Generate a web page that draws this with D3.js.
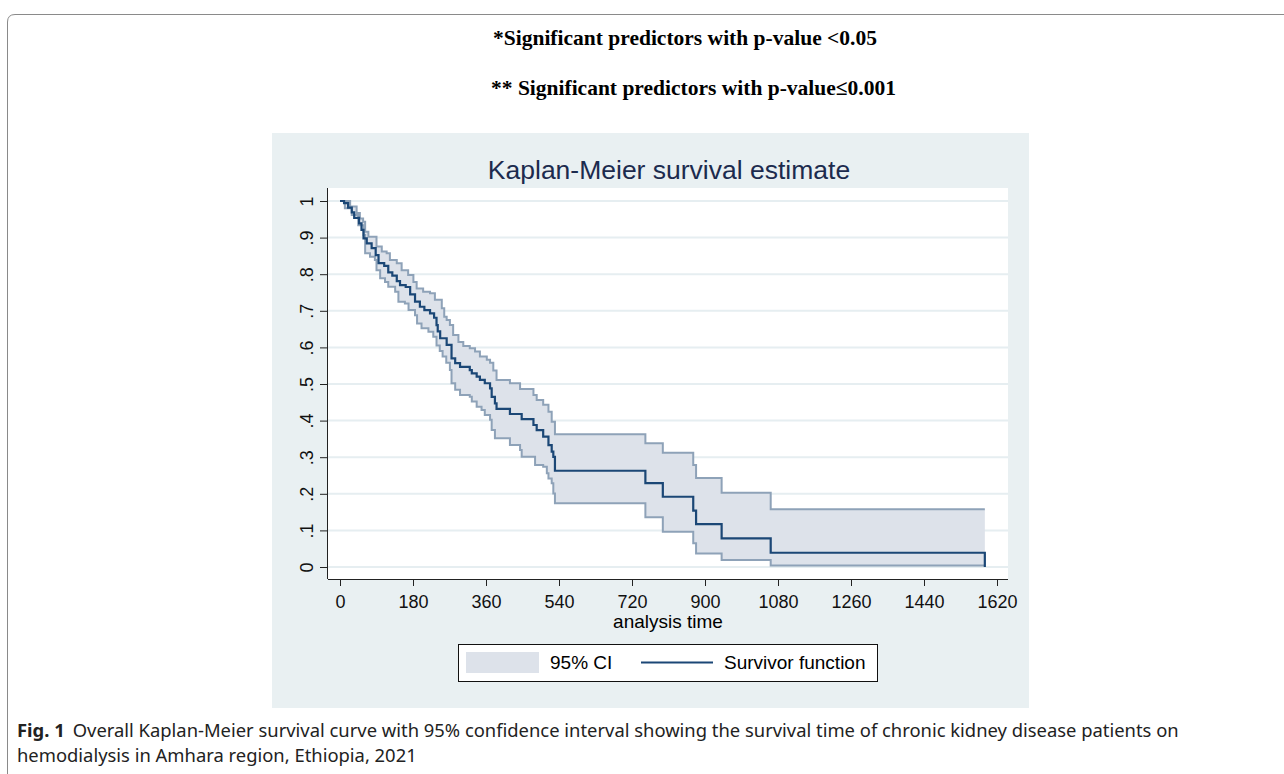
<!DOCTYPE html>
<head>
   <meta charset="utf-8">
   <script src="https://d3js.org/d3.v7.min.js"></script>
   <style>
   body{ margin:0; background:#fff; }
   text{
      font-family: "Liberation Sans", Arial, sans-serif;
   }
   text.note{
      font-family: "Liberation Serif", "Times New Roman", serif;
      font-weight: 700;
      font-size: 21.5px;
   }
   text.title{
      font-size: 26.5px;
      fill: #1c2b4e;
   }
   .tick text{
      font-size: 18px;
      fill: #111;
   }
   .tick line{
      stroke: #222;
   }
   path.domain{
      stroke: #222;
   }
   text.legend{
      font-size: 19px;
   }
   text.caption{
      font-family: "Noto Sans", sans-serif;
      font-size: 18.4px;
      fill: #222;
   }
   </style>
   <title>Kaplan-Meier survival estimate</title>
</head>

<body>
<script>
const width = 1284;
const height = 774;

// step points: [analysis time, survival]
const survival = [
   [0,1],[10,0.994],[20,0.982],[29,0.969],[35,0.954],[47,0.939],[53,0.921],[58,0.898],
   [66,0.884],[78,0.871],[88,0.852],[95,0.830],[109,0.823],[119,0.805],[129,0.796],
   [140,0.781],[148,0.770],[162,0.765],[173,0.745],[185,0.725],[197,0.711],[208,0.702],
   [222,0.693],[232,0.681],[238,0.661],[241,0.644],[247,0.625],[263,0.607],[275,0.570],
   [284,0.557],[296,0.547],[320,0.538],[325,0.529],[337,0.520],[345,0.511],[357,0.502],
   [370,0.488],[374,0.465],[382,0.447],[386,0.432],[419,0.418],[448,0.404],[477,0.388],
   [485,0.374],[501,0.356],[514,0.333],[522,0.315],[526,0.301],[530,0.263],[753,0.229],
   [796,0.192],[871,0.154],[878,0.117],[941,0.078],[1062,0.039],[1590,0]
];
const upperCI = [
   [0,1],[25,0.985],[41,0.967],[49,0.952],[57,0.943],[62,0.916],[70,0.902],[90,0.876],
   [103,0.862],[115,0.857],[123,0.839],[140,0.830],[152,0.811],[168,0.798],[181,0.779],
   [189,0.761],[205,0.752],[222,0.748],[234,0.730],[251,0.707],[257,0.684],[263,0.675],
   [271,0.661],[279,0.634],[292,0.615],[304,0.604],[320,0.598],[333,0.589],[345,0.575],
   [362,0.566],[370,0.558],[378,0.537],[386,0.511],[419,0.502],[444,0.486],[477,0.470],
   [485,0.456],[501,0.443],[514,0.424],[522,0.397],[530,0.363],[753,0.338],[796,0.312],
   [871,0.279],[878,0.243],[941,0.203],[1062,0.158],[1590,0.158]
];
const lowerCI = [
   [0,1],[12,0.980],[29,0.962],[45,0.934],[58,0.907],[62,0.857],[74,0.848],[86,0.839],
   [90,0.811],[99,0.789],[111,0.779],[119,0.766],[136,0.752],[144,0.725],[160,0.720],
   [169,0.702],[185,0.688],[190,0.665],[201,0.652],[218,0.643],[230,0.629],[238,0.605],
   [246,0.590],[253,0.575],[262,0.558],[271,0.538],[275,0.502],[284,0.484],[296,0.470],
   [320,0.465],[325,0.452],[337,0.438],[349,0.429],[357,0.415],[370,0.402],[374,0.374],
   [382,0.352],[419,0.333],[444,0.320],[448,0.301],[481,0.279],[501,0.274],[510,0.256],
   [514,0.242],[522,0.229],[526,0.201],[530,0.174],[753,0.136],[796,0.096],[871,0.065],
   [878,0.037],[941,0.019],[1062,0.004],[1590,0.004]
];

const xTicks = [0,180,360,540,720,900,1080,1260,1440,1620];
const yTicks = [0,0.1,0.2,0.3,0.4,0.5,0.6,0.7,0.8,0.9,1];

const notes = ['*Significant predictors with p-value <0.05', '** Significant predictors with p-value\u22640.001'];

const colCI     = '#dde2ea';
const colCIline = '#8ea2b8';
const colSurv   = '#1b4776';
const colPanel  = '#e9f0f2';

const svg = d3.select('body').append('svg')
   .attr('width', width)
   .attr('height', height);

// outer frame of the page (only top + left corner visible)
svg.append('path')
   .attr('d', 'M7.5,780 L7.5,22 Q7.5,14.5 15,14.5 L1290,14.5')
   .attr('fill', 'none')
   .attr('stroke', '#8a8a8a')
   .attr('stroke-width', 1);

svg.selectAll('text.note')
   .data(notes)
   .enter()
   .append('text')
   .attr('class', 'note')
   .attr('x', (d,i) => i == 0 ? 493 : 491)
   .attr('y', (d,i) => 45 + i*50)
   .text(d => d);

// stata graph region
const panel = {x: 272, y: 133, w: 757, h: 575};
svg.append('rect')
   .attr('x', panel.x).attr('y', panel.y)
   .attr('width', panel.w).attr('height', panel.h)
   .attr('fill', colPanel);

const plot = {left: 328, right: 1008, top: 188, bottom: 579};
svg.append('rect')
   .attr('x', plot.left).attr('y', plot.top)
   .attr('width', plot.right-plot.left).attr('height', plot.bottom-plot.top)
   .attr('fill', '#fff');

const x = d3.scaleLinear()
   .domain([0, 1620])
   .range([340, 997]);

const y = d3.scaleLinear()
   .domain([0, 1])
   .range([567, 201]);

// gridlines
svg.append('g')
   .selectAll('line')
   .data(yTicks)
   .enter()
   .append('line')
   .attr('x1', plot.left).attr('x2', plot.right)
   .attr('y1', d => y(d)).attr('y2', d => y(d))
   .attr('stroke', '#e6eef1')
   .attr('stroke-width', 2);

svg.append('text')
   .attr('class', 'title')
   .attr('x', 669)
   .attr('y', 179)
   .style('text-anchor', 'middle')
   .text('Kaplan-Meier survival estimate');

// CI band over a common time grid
function stepVal(arr, t){
   let v = arr[0][1];
   arr.forEach(p => { if(p[0] <= t) v = p[1]; });
   return v;
}
const grid = Array.from(new Set(upperCI.map(d => d[0]).concat(lowerCI.map(d => d[0])))).sort((a,b) => a-b);
const band = grid.map(t => ({t: t, lo: stepVal(lowerCI, t), hi: stepVal(upperCI, t)}));

svg.append('path')
   .datum(band)
   .attr('fill', colCI)
   .attr('d', d3.area()
      .curve(d3.curveStepAfter)
      .x(d => x(d.t))
      .y0(d => y(d.lo))
      .y1(d => y(d.hi)));

const line = d3.line()
   .curve(d3.curveStepAfter)
   .x(d => x(d[0]))
   .y(d => y(d[1]));

[upperCI, lowerCI].forEach(ci => {
   svg.append('path')
      .datum(ci)
      .attr('fill', 'none')
      .attr('stroke', colCIline)
      .attr('stroke-width', 2)
      .attr('d', line);
});

svg.append('path')
   .datum(survival)
   .attr('fill', 'none')
   .attr('stroke', colSurv)
   .attr('stroke-width', 2.2)
   .attr('d', line);

// axes
const xAxis = d3.axisBottom(x)
   .tickValues(xTicks)
   .tickSize(7)
   .tickPadding(9)
   .tickSizeOuter(0)
   .tickFormat(d3.format('d'));

const gx = svg.append('g')
   .attr('class', 'axis xAxis')
   .attr('transform', `translate(0, ${plot.bottom})`)
   .call(xAxis);
gx.select('.domain').attr('d', `M${plot.left},0.5H${plot.right}`);

const yAxis = d3.axisLeft(y)
   .tickValues(yTicks)
   .tickSize(8)
   .tickSizeOuter(0)
   .tickFormat(d => d == 0 ? '0' : d == 1 ? '1' : d3.format('.1f')(d).replace(/^0/, ''));

const gy = svg.append('g')
   .attr('class', 'axis yAxis')
   .attr('transform', `translate(${plot.left}, 0)`)
   .call(yAxis);
gy.select('.domain').attr('d', `M-0.5,${plot.top}V${plot.bottom}`);
gy.selectAll('.tick text')
   .attr('x', 0).attr('dy', 0)
   .attr('transform', 'translate(-15,0) rotate(-90)')
   .style('text-anchor', 'middle');

svg.append('text')
   .attr('x', 668)
   .attr('y', 628)
   .style('text-anchor', 'middle')
   .style('font-size', '19px')
   .text('analysis time');

// legend
const lg = svg.append('g');
lg.append('rect')
   .attr('x', 458.5).attr('y', 644.5)
   .attr('width', 419).attr('height', 37)
   .attr('fill', '#fff')
   .attr('stroke', '#111');
lg.append('rect')
   .attr('x', 466).attr('y', 652)
   .attr('width', 73).attr('height', 21)
   .attr('fill', colCI);
lg.append('text')
   .attr('class', 'legend')
   .attr('x', 550).attr('y', 669)
   .text('95% CI');
lg.append('line')
   .attr('x1', 641).attr('x2', 713)
   .attr('y1', 662.5).attr('y2', 662.5)
   .attr('stroke', colSurv)
   .attr('stroke-width', 2);
lg.append('text')
   .attr('class', 'legend')
   .attr('x', 724).attr('y', 669)
   .text('Survivor function');

// figure caption
const cap = svg.append('text')
   .attr('class', 'caption')
   .attr('x', 17).attr('y', 737);
cap.append('tspan').style('font-weight', 700).text('Fig. 1');
cap.append('tspan').attr('dx', 8).text('Overall Kaplan-Meier survival curve with 95% confidence interval showing the survival time of chronic kidney disease patients on');
svg.append('text')
   .attr('class', 'caption')
   .attr('x', 17).attr('y', 762)
   .text('hemodialysis in Amhara region, Ethiopia, 2021');
</script>
</body>
